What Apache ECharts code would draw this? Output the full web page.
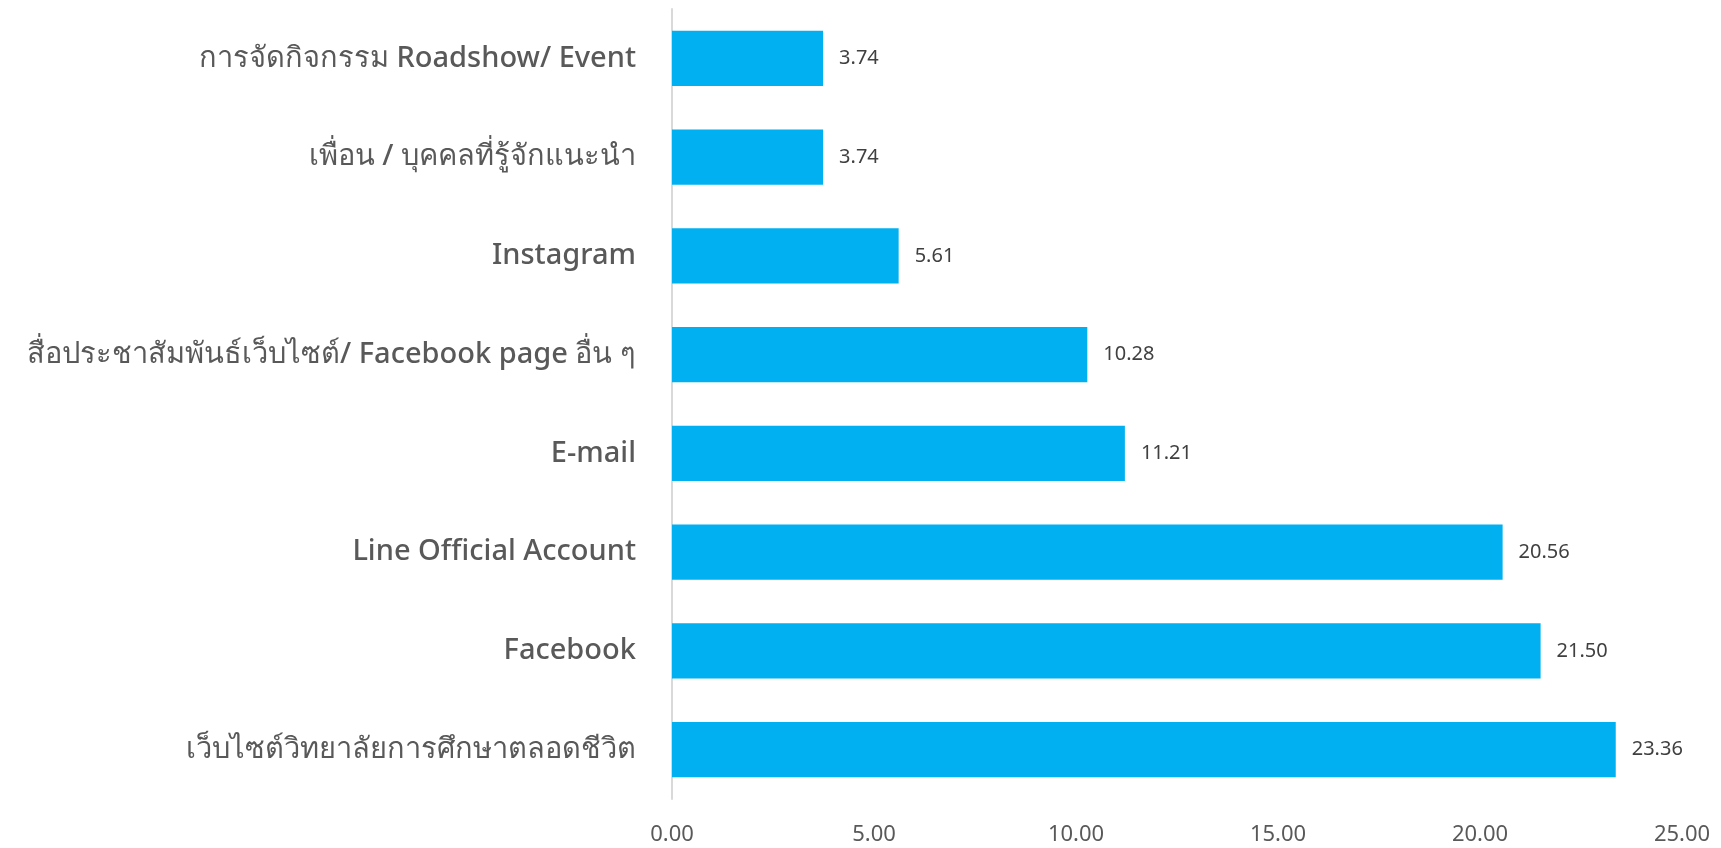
<!DOCTYPE html>
<html>
<head>
<meta charset="utf-8">
<script src="https://cdn.jsdelivr.net/npm/echarts@6/dist/echarts.min.js"></script>
<style>
html,body{margin:0;padding:0;background:#fff;}
#chart{width:1721px;height:848px;}
</style>
</head>
<body>
<div id="chart"></div>
<script>
// categories listed bottom-to-top (ECharts category y-axis starts at bottom)
const categories = [
  'เว็บไซต์วิทยาลัยการศึกษาตลอดชีวิต',
  'Facebook',
  'Line Official Account',
  'E-mail',
  'สื่อประชาสัมพันธ์เว็บไซต์/ Facebook page อื่น ๆ',
  'Instagram',
  'เพื่อน / บุคคลที่รู้จักแนะนำ',
  'การจัดกิจกรรม Roadshow/ Event'
];
const values = [23.36, 21.50, 20.56, 11.21, 10.28, 5.61, 3.74, 3.74];
const xTicks = [0, 5, 10, 15, 20, 25];

const FONT = '"Noto Sans", "Open Sans", sans-serif';
const chart = echarts.init(document.getElementById('chart'), null, {renderer: 'canvas'});
chart.setOption({
  backgroundColor: '#ffffff',
  animation: false,
  grid: {left: 672, right: 39, top: 9, bottom: 49, containLabel: false},
  xAxis: {
    type: 'value',
    min: xTicks[0],
    max: xTicks[xTicks.length - 1],
    interval: 5,
    axisLine: {show: false},
    axisTick: {show: false},
    splitLine: {show: false},
    axisLabel: {
      color: '#595959',
      fontSize: 22,
      fontFamily: FONT,
      margin: 25,
      formatter: v => v.toFixed(2)
    }
  },
  yAxis: {
    type: 'category',
    data: categories,
    axisLine: {show: true, lineStyle: {color: '#d9d9d9', width: 2}},
    axisTick: {show: false},
    axisLabel: {
      color: '#595959',
      fontSize: 29,
      fontWeight: 500,
      fontFamily: FONT,
      margin: 36
    }
  },
  series: [{
    type: 'bar',
    data: values,
    barCategoryGap: '44%',
    itemStyle: {color: '#00B0F0'},
    label: {
      show: true,
      position: 'right',
      distance: 16,
      color: '#404040',
      fontSize: 20,
      fontFamily: FONT,
      formatter: p => p.value.toFixed(2)
    }
  }]
});
</script>
</body>
</html>
